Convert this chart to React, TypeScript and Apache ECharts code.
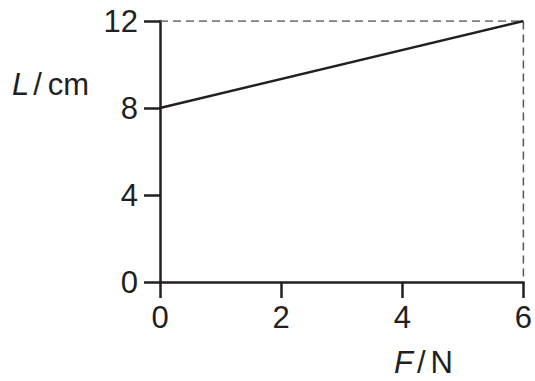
import React, { useEffect, useRef } from "react";
import * as echarts from "echarts";

const forceValues = [0, 6];
const lengthValues = [8, 12];
const guideX = [0, 6, 6];
const guideY = [12, 12, 0];
const xTicks = { min: 0, max: 6, interval: 2 };
const yTicks = { min: 0, max: 12, interval: 4 };

const FONT = "Liberation Sans, Arial, sans-serif";
const INK = "#231f20";

export default function App() {
  const ref = useRef<HTMLDivElement>(null);
  useEffect(() => {
    if (!ref.current) return;
    const chart = echarts.init(ref.current, null, { renderer: "svg" });
    const axisCommon = {
      axisLine: { lineStyle: { color: INK, width: 2.5 } },
      axisTick: { inside: false, length: 16, lineStyle: { color: INK, width: 2.5 } },
      splitLine: { show: false },
      axisLabel: { color: INK, fontSize: 31, fontFamily: FONT },
    };
    const rich = (gapA: number, gapB: number) => ({
      i: { fontStyle: "italic", fontSize: 31, fontFamily: FONT, fill: INK, lineHeight: 26, padding: [0, gapA, 0, 0] },
      s: { fontSize: 31, fontFamily: FONT, fill: INK, lineHeight: 26, padding: [0, gapB, 0, 0] },
      n: { fontSize: 31, fontFamily: FONT, fill: INK, lineHeight: 26 },
    });
    chart.setOption({
      animation: false,
      backgroundColor: "#ffffff",
      grid: { left: 160, right: 8, top: 21, bottom: 99, containLabel: false },
      xAxis: {
        type: "value",
        ...xTicks,
        ...axisCommon,
        axisLabel: { ...axisCommon.axisLabel, margin: 20 },
      },
      yAxis: {
        type: "value",
        ...yTicks,
        ...axisCommon,
        axisLabel: { ...axisCommon.axisLabel, margin: 22 },
      },
      graphic: [
        {
          type: "text",
          left: 12,
          top: 69,
          style: {
            text: "{i|L}{s|/}{n|cm}",
            fill: INK,
            font: `31px ${FONT}`,
            rich: rich(4, 6),
          },
        },
        {
          type: "text",
          left: 394,
          top: 347,
          style: {
            text: "{i|F}{s|/}{n|N}",
            fill: INK,
            font: `31px ${FONT}`,
            rich: rich(4, 5),
          },
        },
      ],
      series: [
        {
          type: "line",
          data: guideX.map((x, i) => [x, guideY[i]]),
          symbol: "none",
          lineStyle: { color: "#555555", width: 1.5, type: [8, 5] },
          z: 1,
        },
        {
          type: "line",
          data: forceValues.map((x, i) => [x, lengthValues[i]]),
          symbol: "none",
          lineStyle: { color: INK, width: 2.5 },
          z: 3,
        },
      ],
    });
    return () => chart.dispose();
  }, []);
  return <div ref={ref} style={{ width: 535, height: 381, position: "absolute", left: 0, top: 0 }} />;
}
